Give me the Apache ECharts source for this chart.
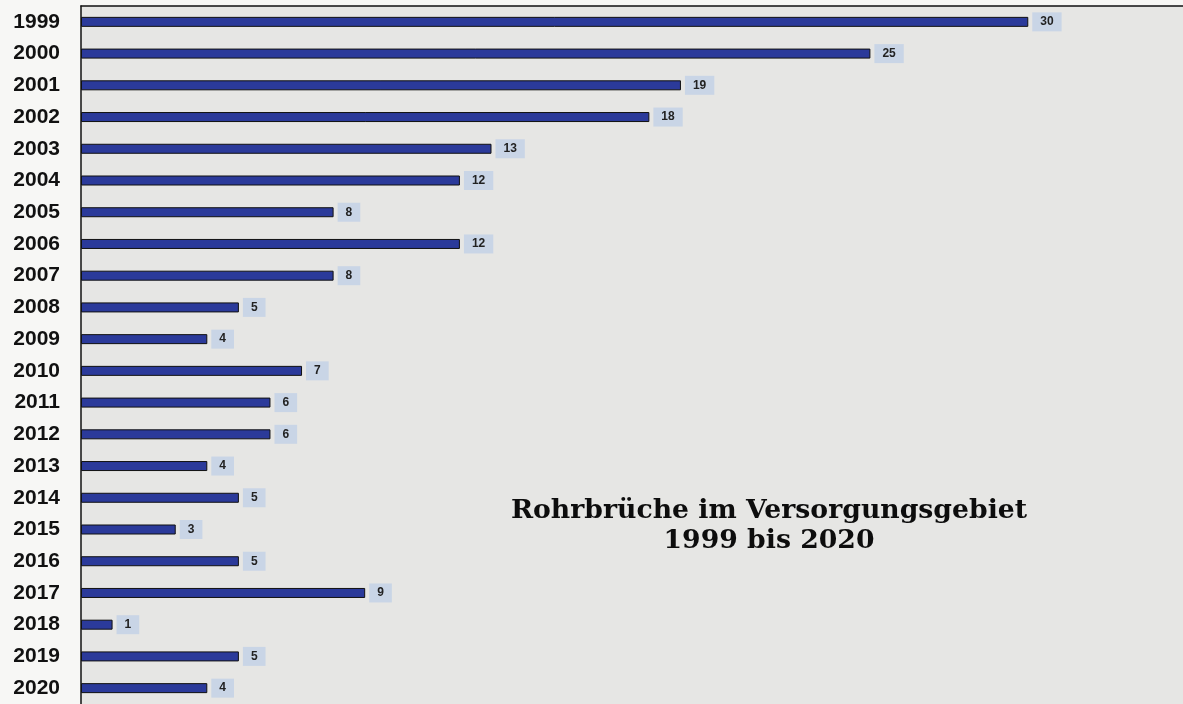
<!DOCTYPE html>
<html lang="de">
<head>
    <meta charset="UTF-8">
    <title>Rohrbrüche</title>
    <script src="https://cdn.jsdelivr.net/npm/echarts@6/dist/echarts.min.js"></script>
</head>
<style type="text/css">
    html,body,#chart{
        width: 100%;
        height: 100%;
        margin: 0;
        padding: 0;
        background: #f7f7f5;
    }
</style>
<body>
<div id="chart"></div>
<script>
    // Daten
    var years = ['1999','2000','2001','2002','2003','2004','2005','2006','2007','2008','2009',
        '2010','2011','2012','2013','2014','2015','2016','2017','2018','2019','2020'];
    var breaks = [30,25,19,18,13,12,8,12,8,5,4,7,6,6,4,5,3,5,9,1,5,4];
    var titleLines = ['Rohrbrüche im Versorgungsgebiet', '1999 bis 2020'];

    var myChart = echarts.init(document.getElementById('chart'));
    var options = {
        animation: false,
        backgroundColor: '#f7f7f5',
        title: {
            text: titleLines.join('\n'),
            left: 764,
            top: 491,
            textAlign: 'center',
            textStyle: {
                fontFamily: 'DejaVu Serif',
                fontWeight: 'bold',
                fontSize: 26.7,
                lineHeight: 30,
                color: '#0d0d0d'
            }
        },
        grid: {
            left: 81,
            right: 0,
            top: 6,
            bottom: -2,
            show: true,
            borderWidth: 0,
            backgroundColor: '#e6e6e4'
        },
        xAxis: {
            type: 'value',
            position: 'top',
            min: 0,
            max: 34.9,
            axisLine: {show: true, lineStyle: {color: '#111', width: 1.5}},
            axisTick: {show: false},
            axisLabel: {show: false},
            splitLine: {show: false}
        },
        yAxis: {
            type: 'category',
            inverse: true,
            data: years,
            axisLine: {show: true, lineStyle: {color: '#111', width: 1.5}},
            axisTick: {show: false},
            axisLabel: {
                margin: 21,
                fontFamily: 'Liberation Sans',
                fontWeight: 'bold',
                fontSize: 21,
                color: '#111'
            }
        },
        series: [{
            type: 'bar',
            data: breaks,
            barWidth: 10,
            itemStyle: {
                color: '#2b3a9a',
                borderColor: '#111',
                borderWidth: 1
            },
            label: {
                show: true,
                position: 'right',
                distance: 4,
                backgroundColor: '#c9d5e6',
                padding: [4, 8, 3, 8],
                fontFamily: 'Liberation Sans',
                fontWeight: 'bold',
                fontSize: 12,
                color: '#222'
            }
        }]
    };
    myChart.setOption(options);
</script>
</body>
</html>
